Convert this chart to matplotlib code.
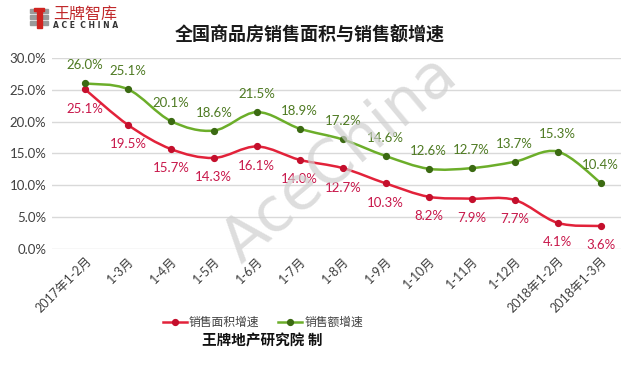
import numpy as np
import matplotlib.pyplot as plt
from matplotlib.path import Path
from matplotlib.patches import PathPatch, Rectangle

plt.rcParams['font.family'] = ['Lato', 'Noto Sans CJK SC', 'DejaVu Sans']

categories = ['2017年1-2月', '1-3月', '1-4月', '1-5月', '1-6月', '1-7月', '1-8月',
              '1-9月', '1-10月', '1-11月', '1-12月', '2018年1-2月', '2018年1-3月']
area_growth = [25.1, 19.5, 15.7, 14.3, 16.1, 14.0, 12.7, 10.3, 8.2, 7.9, 7.7, 4.1, 3.6]
sales_growth = [26.0, 25.1, 20.1, 18.6, 21.5, 18.9, 17.2, 14.6, 12.6, 12.7, 13.7, 15.3, 10.4]
series_names = ['销售面积增速', '销售额增速']
yticks = [0, 5, 10, 15, 20, 25, 30]

red_line = '#e2223a'
red_dot = '#c40f2c'
red_text = '#c8174a'
green_line = '#6cae2a'
green_dot = '#3b6a12'
green_text = '#4e7a22'
tick_col = '#404040'


def smooth_path(x, y, t=1/6.):
    # Excel-like smoothed line: Catmull-Rom converted to cubic bezier
    x = np.asarray(x, float)
    y = np.asarray(y, float)
    verts = [(x[0], y[0])]
    codes = [Path.MOVETO]
    n = len(x)
    for i in range(n - 1):
        p0 = i - 1 if i > 0 else i
        p3 = i + 2 if i + 2 < n else i + 1
        c1 = (x[i] + (x[i + 1] - x[p0]) * t, y[i] + (y[i + 1] - y[p0]) * t)
        c2 = (x[i + 1] - (x[p3] - x[i]) * t, y[i + 1] - (y[p3] - y[i]) * t)
        verts += [c1, c2, (x[i + 1], y[i + 1])]
        codes += [Path.CURVE4] * 3
    return Path(verts, codes)


fig = plt.figure(figsize=(6.4, 3.65), dpi=100)
ax = fig.add_axes([0.081, 0.318, 0.889, 0.523])

xs = np.arange(len(categories))

for vals, lc, dc, tc, name, dy in [
        (area_growth, red_line, red_dot, red_text, series_names[0], -14),
        (sales_growth, green_line, green_dot, green_text, series_names[1], 13)]:
    ax.add_patch(PathPatch(smooth_path(xs, vals), fill=False, ec=lc, lw=1.8, zorder=3))
    ax.plot(xs, vals, ls='none', marker='o', ms=4.2, color=dc, zorder=4)
    ax.plot([], [], color=lc, lw=1.8, marker='o', ms=4.2, mfc=dc, mec=dc, label=name)
    for xi, v in zip(xs, vals):
        ax.annotate('%.1f%%' % v, (xi, v), xytext=(0, dy), textcoords='offset points',
                    ha='center', va='center', fontsize=9.5, color=tc, zorder=5)

ax.set_xlim(-0.77, 12.47)
ax.set_ylim(0, 30)
ax.set_yticks(yticks)
ax.set_yticklabels(['%.1f%%' % v for v in yticks], fontsize=9.5, color=tick_col)
ax.set_xticks(xs)
ax.set_xticklabels(categories, rotation=45, ha='right', rotation_mode='anchor',
                   fontsize=9, color=tick_col)
ax.tick_params(axis='both', length=0, pad=4)
ax.grid(axis='y', color='#d9d9d9', lw=1)
ax.set_axisbelow(True)
for s in ax.spines.values():
    s.set_visible(False)

leg = fig.legend(loc='center', bbox_to_anchor=(263 / 640, 1 - 322 / 365), ncol=2,
                 frameon=False, fontsize=8.5, handlelength=2.0, columnspacing=1.6,
                 handletextpad=0.2)
for t in leg.get_texts():
    t.set_color(tick_col)

fig.text(310 / 640, 1 - 35 / 365, '全国商品房销售面积与销售额增速', ha='center', va='center',
         fontsize=13, fontweight='bold', color='#1a1a1a')
fig.text(262 / 640, 1 - 341 / 365, '王牌地产研究院 制', ha='center', va='center',
         fontsize=10.5, fontweight='bold', color='#111111')

# watermark
fig.text(340 / 640, 1 - 160 / 365, 'AceChina', ha='center', va='center', rotation=40,
         fontsize=44, color='#cfcfcf', alpha=0.7, zorder=0, family='DejaVu Sans')

# logo
for yy in [9, 15, 21]:
    fig.patches.append(Rectangle((30 / 640, 1 - (yy + 4) / 365), 6 / 640, 4 / 365,
                                 transform=fig.transFigure, color='#9a9a9a'))
    fig.patches.append(Rectangle((43 / 640, 1 - (yy + 4) / 365), 5 / 640, 4 / 365,
                                 transform=fig.transFigure, color='#9a9a9a'))
fig.patches.append(Rectangle((34 / 640, 1 - 11 / 365), 10 / 640, 3 / 365,
                             transform=fig.transFigure, color='#d0231f'))
fig.patches.append(Rectangle((37 / 640, 1 - 28 / 365), 5 / 640, 19 / 365,
                             transform=fig.transFigure, color='#d0231f'))
fig.text(53 / 640, 1 - 14.5 / 365, '王牌智库', ha='left', va='center', fontsize=11.5,
         color='#c0282a')
fig.text(53 / 640, 1 - 26 / 365, 'A C E  C H I N A', ha='left', va='center', fontsize=5.5,
         fontweight='bold', color='#333333', family='DejaVu Sans')

fig.savefig('out.png', dpi=100)
